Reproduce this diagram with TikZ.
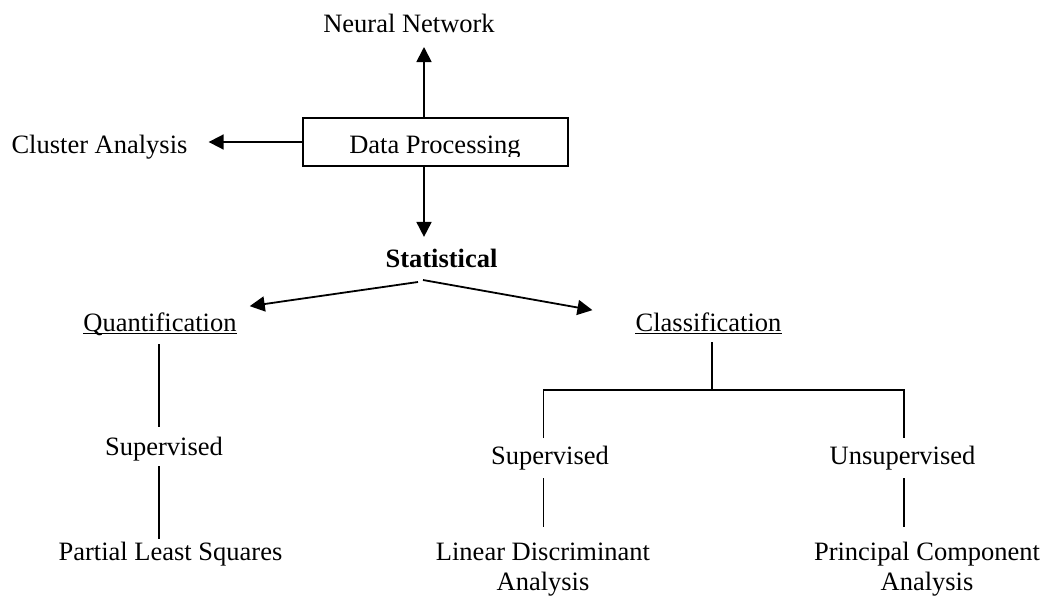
\documentclass[tikz,border=0pt]{standalone}
\usepackage{fontspec}
\setmainfont{Liberation Serif}
\usetikzlibrary{arrows.meta}

\begin{document}
\begin{tikzpicture}[x=1pt,y=-1pt,
  lbl/.style={inner sep=0pt, anchor=base, font=\fontsize{26.5}{30}\selectfont},
  twoline/.style={lbl, align=center},
  link/.style={line width=1.7pt},
  arr/.style={line width=1.8pt, -{Triangle[length=15pt,width=15pt]}},
  boxed/.style={draw, line width=1.7pt, inner sep=0pt, minimum width=265pt, minimum height=48pt},
  uline/.style={line width=1.4pt}
]
  \fill[white] (0,0) rectangle (1044,597);
  \useasboundingbox (0,0) rectangle (1044,597);

  % top level
  \node[boxed] (dp) at (435.5,142) {};
  \begin{scope}
    \clip (dp.north west) rectangle ([yshift=10pt]dp.south east);
    \node[lbl] (dptext) at (435,153) {Data Processing};
  \end{scope}
  \node[lbl] (nn) at (409,32) {Neural Network};
  \node[lbl] (ca) at (99.5,153) {Cluster Analysis};
  \node[lbl, font=\fontsize{26.5}{30}\selectfont\bfseries] (st) at (441.5,267) {Statistical};

  % second level
  \node[lbl] (q) at (160,331) {Quantification};
  \node[lbl] (cl) at (708.5,331) {Classification};
  \draw[uline] ([yshift=-2.5pt]q.base west) -- ([yshift=-2.5pt]q.base east);
  \draw[uline] ([yshift=-2.5pt]cl.base west) -- ([yshift=-2.5pt]cl.base east);

  % third level
  \node[lbl] (s1) at (164,455) {Supervised};
  \node[lbl] (s2) at (550,464) {Supervised};
  \node[lbl] (s3) at (902.5,464) {Unsupervised};

  % leaves (base anchor sits on the last line)
  \node[lbl] (pls) at (170.5,560) {Partial Least Squares};
  \node[twoline] (lda) at (543,590) {Linear Discriminant\\Analysis};
  \node[twoline] (pca) at (927,590) {Principal Component\\Analysis};

  % arrows out of the processing box
  \draw[arr] ([xshift=-11.5pt]dp.north) -- ([xshift=-11.5pt,yshift=-15pt]dp.north |- nn.base);
  \draw[arr] (dp.west) -- ([xshift=21pt]ca.east |- dp.west);
  \draw[arr] ([xshift=-11.5pt]dp.south) -- ([xshift=-11.5pt,yshift=11.5pt]dp.south |- st.north);

  % statistical split
  \draw[arr] ([xshift=-23.5pt,yshift=-15pt]st.base) -- ([xshift=13pt,yshift=6pt]q.north east);
  \draw[arr] ([xshift=-18.5pt,yshift=-13pt]st.base) -- ([xshift=-43pt,yshift=2pt]cl.north west);

  % vertical positions of the tree lines
  \coordinate (qx) at (159,0);
  \coordinate (fork) at (712,390);
  \coordinate (forkL) at (543.5,390);
  \coordinate (forkR) at (904,390);

  % quantification branch
  \draw[link] ([yshift=-13pt]q.base -| qx) -- ([yshift=28pt]s1.base -| qx);
  \draw[link] ([yshift=-11pt]s1.base -| qx) -- ([yshift=21pt]pls.base -| qx);

  % classification branch
  \draw[link] ([yshift=-11pt]cl.base -| fork) -- (fork);
  \draw[link] ([yshift=26pt]s2.base -| forkL) -- (forkL) -- (forkR) -- ([yshift=26pt]s3.base -| forkR);
  \draw[link] ([yshift=-14pt]s2.base -| forkL) -- ([yshift=63pt]lda.base -| forkL);
  \draw[link] ([yshift=-14pt]s3.base -| forkR) -- ([yshift=63pt]pca.base -| forkR);
\end{tikzpicture}
\end{document}
